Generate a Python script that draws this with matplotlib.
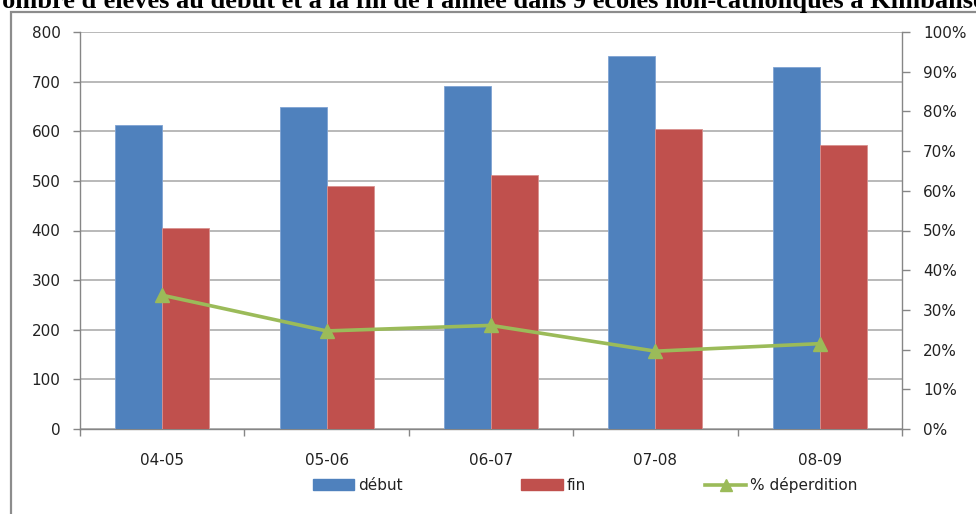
import matplotlib
matplotlib.use("Agg")
import matplotlib.pyplot as plt
from matplotlib.patches import Patch, Rectangle
from matplotlib.lines import Line2D
import numpy as np

# Data
annees = ["04-05", "05-06", "06-07", "07-08", "08-09"]
debut = [612, 648, 691, 751, 730]
fin = [405, 489, 511, 604, 573]
deperdition = [33.7, 24.7, 26.1, 19.6, 21.5]  # en %

titre = "Nombre d'élèves au début et à la fin de l'année dans 9 écoles non-catholiques à Kimbanseke"

BLEU = "#4F81BD"
ROUGE = "#C0504D"
VERT = "#9BBB59"
GRIS = "#A6A6A6"

W, H = 976, 514
fig = plt.figure(figsize=(W / 100, H / 100), dpi=100)
fig.patch.set_facecolor("white")

plt.rcParams["font.family"] = ["DejaVu Sans"]

# Cadre du graphique
fig.add_artist(Rectangle((11 / W, -0.1), 1.2, 1 - 12 / H + 0.1,
                         transform=fig.transFigure, fill=False,
                         edgecolor="#8C8C8C", linewidth=1.6))

# Titre
fig.text(497 / W, 1 - 8 / H, titre, ha="center", va="baseline",
         fontsize=19, fontweight="bold", family="Liberation Serif")

ax = fig.add_axes([80 / W, 1 - 429 / H, (902 - 80) / W, (429 - 32) / H])
ax2 = ax.twinx()

x = np.arange(len(annees))
bw = 0.286
ax.bar(x - bw / 2, debut, width=bw, color=BLEU, edgecolor="#7FA3D3",
       linewidth=0.6, zorder=3)
ax.bar(x + bw / 2, fin, width=bw, color=ROUGE, edgecolor="#D8918F",
       linewidth=0.6, zorder=3)

ax.set_xlim(-0.5, len(annees) - 0.5)
ax.set_ylim(0, 800)
ax.set_yticks(np.arange(0, 801, 100))
ax.yaxis.grid(True, color=GRIS, linewidth=1.1, zorder=0)
ax.set_axisbelow(True)

ax.set_xticks(x)
ax.set_xticklabels(annees)
ax.set_xticks(np.arange(-0.5, len(annees), 1.0), minor=True)
ax.tick_params(axis="x", which="major", length=0, pad=17, labelsize=11,
               labelcolor="#222222")
ax.tick_params(axis="x", which="minor", length=5, color="#868686", width=1)
ax.tick_params(axis="y", length=5, color="#868686", width=1, pad=9,
               labelsize=11, labelcolor="#222222")

for s in ["top", "right"]:
    ax.spines[s].set_visible(False)
for s in ["left", "bottom"]:
    ax.spines[s].set_color("#868686")
    ax.spines[s].set_linewidth(1.0)

ax2.plot(x, np.array(deperdition) / 100, color=VERT, linewidth=2.6,
         marker="^", markersize=10, markerfacecolor=VERT,
         markeredgecolor=VERT, zorder=5)
ax2.set_ylim(0, 1)
ax2.set_yticks(np.arange(0, 1.01, 0.1))
ax2.set_yticklabels([f"{int(round(v * 100))}%" for v in np.arange(0, 1.01, 0.1)])
ax2.tick_params(axis="y", length=6, color="#868686", width=1, pad=9,
                labelsize=11, labelcolor="#222222")
for s in ["top", "left", "bottom"]:
    ax2.spines[s].set_visible(False)
ax2.spines["right"].set_color("#868686")
ax2.spines["right"].set_linewidth(1.0)

# Légende
handles = [
    Patch(facecolor=BLEU, edgecolor=BLEU, label="début"),
    Patch(facecolor=ROUGE, edgecolor=ROUGE, label="fin"),
    Line2D([0], [0], color=VERT, linewidth=2.6, marker="^", markersize=9,
           label="% déperdition"),
]
fig.legend(handles=handles, loc="center", bbox_to_anchor=(585 / W, 1 - 485 / H),
           ncol=3, frameon=False, fontsize=11, handlelength=2.7,
           handleheight=0.7, handletextpad=0.25, columnspacing=7.8,
           labelcolor="#222222")

fig.savefig("out.png", dpi=100, facecolor="white")
